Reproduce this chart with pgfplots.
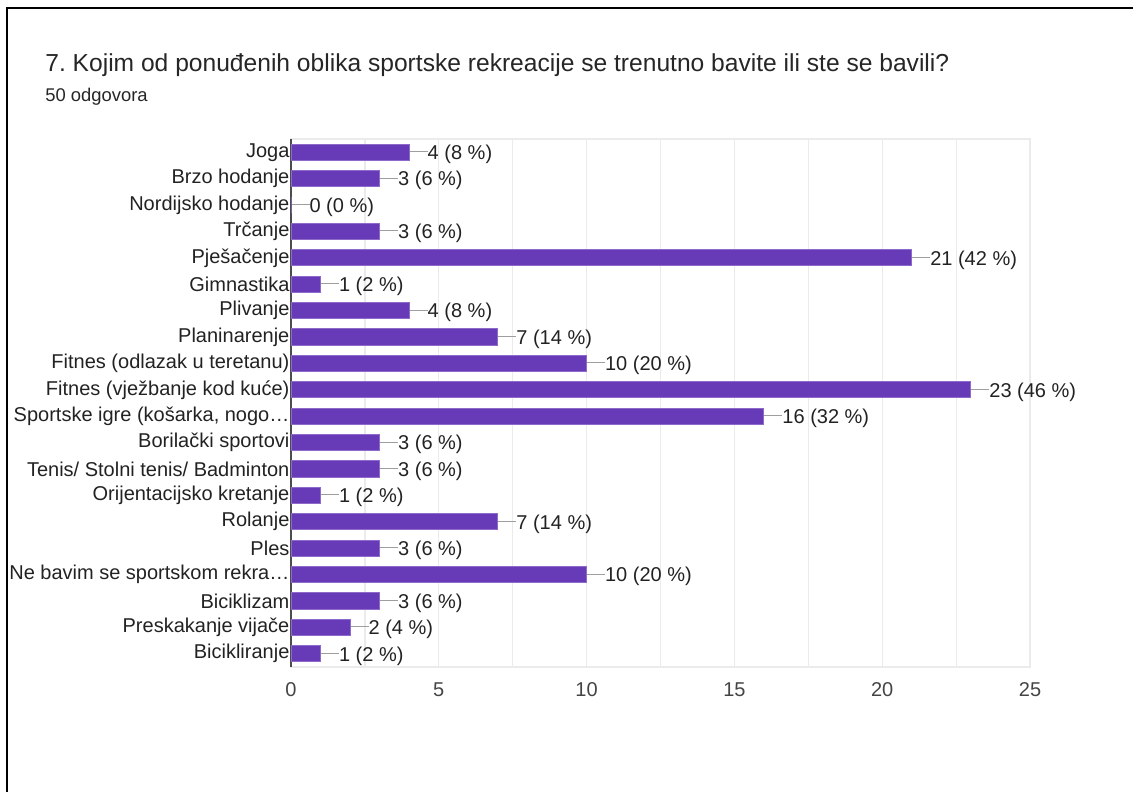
\documentclass[border=0pt]{standalone}
\usepackage{pgfplots}
\pgfplotsset{compat=1.18}
\usepackage{fontspec}
\setmainfont{Liberation Sans}
\frenchspacing
\definecolor{barpurple}{HTML}{673AB7}
\definecolor{baredge}{HTML}{8E6BCB}
\definecolor{gridgray}{HTML}{EBEBEB}
\definecolor{txt}{HTML}{222222}
\definecolor{ticktxt}{HTML}{444444}
\definecolor{leader}{HTML}{9E9E9E}

\begin{document}
\begin{tikzpicture}
\useasboundingbox (0,0) rectangle (566.5pt,396pt);
% frame of the screenshot (top and left only)
\draw[line width=1pt] (3.25pt,0) -- (3.25pt,392pt) -- (566.5pt,392pt);
\node[anchor=base west, inner sep=0, font=\fontsize{12.3}{15}\selectfont, text=black!85]
  at (22.5pt,360pt) {7. Kojim od ponuđenih oblika sportske rekreacije se trenutno bavite ili ste se bavili?};
\node[anchor=base west, inner sep=0, font=\fontsize{9.2}{11}\selectfont, text=black!85]
  at (22.5pt,345pt) {50 odgovora};
\begin{axis}[
  at={(145.5pt,62.5pt)}, anchor=south west,
  scale only axis, width=369.5pt, height=264pt,
  xbar, bar width=0.62,
  xmin=0, xmax=25, ymin=-0.5, ymax=19.5, y dir=reverse,
  xtick={0,5,...,25}, minor xtick={2.5,7.5,...,22.5},
  xmajorgrids, xminorgrids,
  grid style={draw=gridgray, line width=0.6pt},
  minor grid style={draw=gridgray, line width=0.6pt},
  axis line style={draw=gridgray, line width=0.6pt},
  major tick length=0, minor tick length=0,
  extra x ticks={0}, extra x tick labels={},
  extra x tick style={grid style={draw=black!70, line width=1pt}},
  ytick={0,...,19},
  yticklabels={Joga, Brzo hodanje, Nordijsko hodanje, Trčanje, Pješačenje, Gimnastika,
    Plivanje, Planinarenje, Fitnes (odlazak u teretanu), Fitnes (vježbanje kod kuće),
    {Sportske igre (košarka, nogo…}, Borilački sportovi, Tenis/ Stolni tenis/ Badminton,
    Orijentacijsko kretanje, Rolanje, Ples, Ne bavim se sportskom rekra…, Biciklizam,
    Preskakanje vijače, Bicikliranje},
  yticklabel style={font=\fontsize{10}{12}\selectfont, text=txt, inner sep=0.6pt},
  xticklabel style={font=\fontsize{10}{12}\selectfont, text=ticktxt, yshift=-4.2pt},
  /pgf/number format/assume math mode=true,
  point meta=explicit symbolic,
  nodes near coords={\textcolor{leader}{\rule[0.36em]{9pt}{0.5pt}}\pgfplotspointmeta},
  every node near coord/.append style={anchor=base west, yshift=-0.36em, inner sep=0pt,
    font=\fontsize{10}{12}\selectfont, text=txt},
  clip=false,
]
\addplot[fill=barpurple, draw=baredge, line width=0.5pt] coordinates {
  (4,0) [4 (8~\%)]
  (3,1) [3 (6~\%)]
  (0,2) [0 (0~\%)]
  (3,3) [3 (6~\%)]
  (21,4) [21 (42~\%)]
  (1,5) [1 (2~\%)]
  (4,6) [4 (8~\%)]
  (7,7) [7 (14~\%)]
  (10,8) [10 (20~\%)]
  (23,9) [23 (46~\%)]
  (16,10) [16 (32~\%)]
  (3,11) [3 (6~\%)]
  (3,12) [3 (6~\%)]
  (1,13) [1 (2~\%)]
  (7,14) [7 (14~\%)]
  (3,15) [3 (6~\%)]
  (10,16) [10 (20~\%)]
  (3,17) [3 (6~\%)]
  (2,18) [2 (4~\%)]
  (1,19) [1 (2~\%)]
};
\end{axis}
\end{tikzpicture}
\end{document}
